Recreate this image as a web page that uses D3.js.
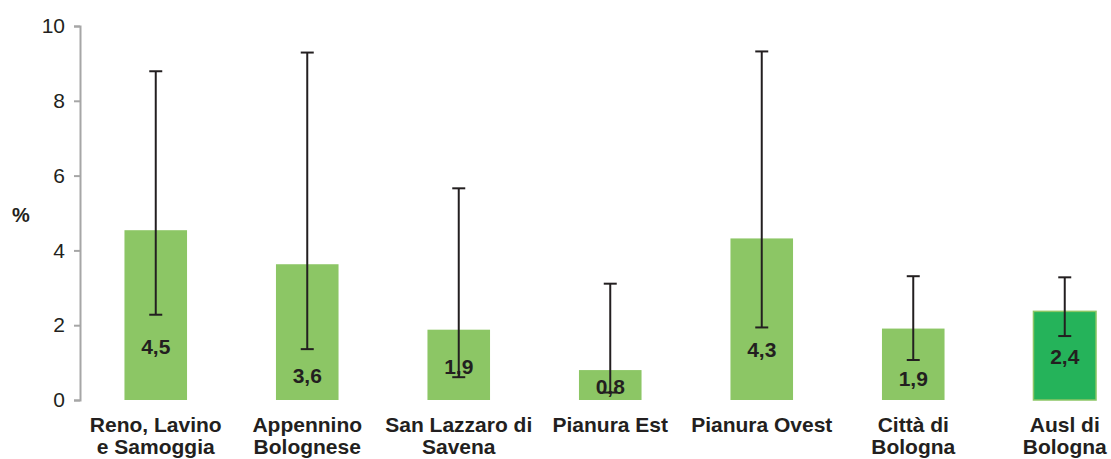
<!DOCTYPE html>
<html>
<head>
<meta charset="utf-8">
<script src="https://cdn.jsdelivr.net/npm/d3@7"></script>
<style>
  html, body { margin: 0; padding: 0; background: #fff; }
  svg { display: block; font-family: "Liberation Sans", Arial, sans-serif; }
</style>
</head>
<body>
<svg id="chart" width="1111" height="459"></svg>
<script>
// ---- data ----
const categories = [
  ["Reno, Lavino", "e Samoggia"],
  ["Appennino", "Bolognese"],
  ["San Lazzaro di", "Savena"],
  ["Pianura Est"],
  ["Pianura Ovest"],
  ["Città di", "Bologna"],
  ["Ausl di", "Bologna"]
];
const values = [4.54, 3.63, 1.88, 0.80, 4.32, 1.91, 2.37];
const lowerCI = [2.28, 1.36, 0.61, 0.20, 1.94, 1.07, 1.71];
const upperCI = [8.79, 9.29, 5.66, 3.11, 9.32, 3.31, 3.28];
const yTicks = [0, 2, 4, 6, 8, 10];
const yLabel = "%";
// label anchor heights (data units) as placed in the original
const labelAnchors = [1.43, 0.65, 0.88, 0.37, 1.34, 0.56, 1.16];

// ---- layout ----
const svg = d3.select("#chart");
const x0 = 80, step = 151.5;
const x = d3.scaleBand()
  .domain(d3.range(categories.length))
  .range([x0, x0 + step * categories.length])
  .paddingInner(0.587)
  .paddingOuter(0.2935);
const y = d3.scaleLinear().domain([0, 10]).range([400, 26]);

const fmt = d3.formatLocale({decimal: ",", thousands: ".", grouping: [3], currency: ["", "€"]}).format(".1f");

// y axis
const yAxis = d3.axisLeft(y).tickValues(yTicks).tickSize(6).tickPadding(9).tickFormat(d => d);
const gy = svg.append("g").attr("transform", `translate(${x0},0)`).call(yAxis);
gy.select(".domain").attr("stroke", "#a6a6a6").attr("stroke-width", 2);
gy.selectAll(".tick line").attr("stroke", "#a6a6a6").attr("stroke-width", 2);
gy.selectAll(".tick text")
  .attr("fill", "#231f20")
  .style("font-size", "21px")
  .style("font-family", "'Liberation Sans', Arial, sans-serif");

svg.append("text")
  .attr("x", 21).attr("y", y(4.95))
  .attr("dy", "0.35em")
  .attr("text-anchor", "middle")
  .attr("fill", "#231f20")
  .style("font-size", "20px").style("font-weight", "bold")
  .text(yLabel);

// bars
const last = categories.length - 1;
svg.append("g").selectAll("rect")
  .data(values)
  .join("rect")
  .attr("x", (d, i) => x(i))
  .attr("width", x.bandwidth())
  .attr("y", d => y(d))
  .attr("height", d => y(0) - y(d))
  .attr("fill", (d, i) => i === last ? "#25b35a" : "#8cc665")
  .attr("stroke", (d, i) => i === last ? "#8cc665" : "none")
  .attr("stroke-width", 1.5);

// value labels
svg.append("g").selectAll("text")
  .data(values)
  .join("text")
  .attr("x", (d, i) => x(i) + x.bandwidth() / 2)
  .attr("y", (d, i) => y(labelAnchors[i]))
  .attr("dy", "0.35em")
  .attr("text-anchor", "middle")
  .attr("fill", "#231f20")
  .style("font-size", "21px").style("font-weight", "bold")
  .text(d => fmt(d));

// error bars
const eb = svg.append("g").attr("stroke", "#231f20").attr("stroke-width", 2);
const capW = 6.5;
values.forEach((v, i) => {
  const cx = x(i) + x.bandwidth() / 2;
  eb.append("line").attr("x1", cx).attr("x2", cx).attr("y1", y(lowerCI[i])).attr("y2", y(upperCI[i]));
  eb.append("line").attr("x1", cx - capW).attr("x2", cx + capW).attr("y1", y(lowerCI[i])).attr("y2", y(lowerCI[i]));
  eb.append("line").attr("x1", cx - capW).attr("x2", cx + capW).attr("y1", y(upperCI[i])).attr("y2", y(upperCI[i]));
});

// category labels
const cat = svg.append("g").selectAll("text")
  .data(categories)
  .join("text")
  .attr("x", (d, i) => x(i) + x.bandwidth() / 2)
  .attr("y", 432)
  .attr("text-anchor", "middle")
  .attr("fill", "#231f20")
  .style("font-size", "21px").style("font-weight", "bold");
cat.selectAll("tspan")
  .data(d => d)
  .join("tspan")
  .attr("x", function() { return this.parentNode.getAttribute("x"); })
  .attr("dy", (d, j) => j === 0 ? 0 : 22)
  .text(d => d);
</script>
</body>
</html>
